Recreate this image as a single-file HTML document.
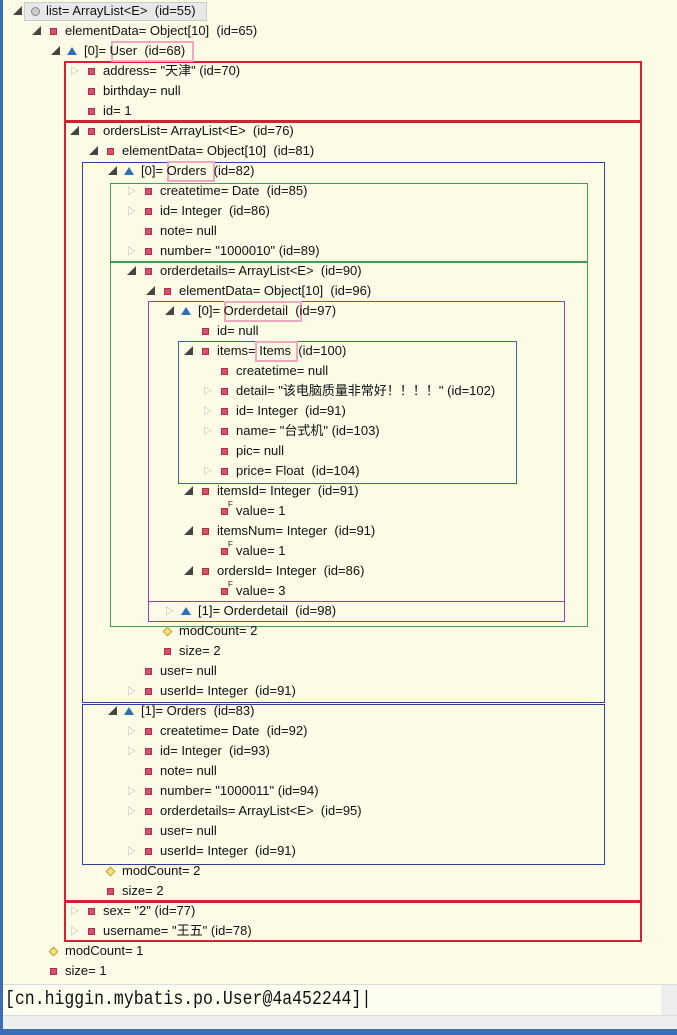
<!DOCTYPE html>
<html><head><meta charset="utf-8"><style>
body{margin:0;width:677px;height:1035px;overflow:hidden;background:#3b6fb5;}
#tree{position:absolute;left:3px;top:0;width:674px;height:984px;background:#fbfbe6;}
.r{position:absolute;height:20px;font:13px "Liberation Sans","Noto Sans CJK SC",sans-serif;line-height:19px;color:#111;white-space:pre;}
.r .a{position:absolute;left:-33px;top:0;width:10px;color:#444;font-size:9px;line-height:21px;}
.r .a.c{color:#aaa;}
.r .i{position:absolute;left:-15px;top:7px;width:7px;height:7px;background:#d9506a;border:1px solid #b03048;box-sizing:border-box;}
.r .i.t{background:none;border:none;width:0;height:0;border-left:5px solid transparent;border-right:5px solid transparent;border-bottom:8px solid #2f6fb5;top:6px;left:-17px;}
.r .i.d{background:#f5e08a;border:1px solid #c9a030;transform:rotate(45deg);}
.r .i.o{border-radius:50%;background:#ccc;border:1px solid #888;width:9px;height:9px;top:6px;}
.r .i.f::after{content:"F";position:absolute;left:6px;top:-8px;font-size:8px;color:#333;line-height:8px;}
.b{position:absolute;box-sizing:border-box;}
</style></head><body>
<div id="tree">
<div class="b" style="left:21px;top:2px;width:183px;height:19px;background:#e8e8e8;border:1px solid #ccc"></div>
<div class="b" style="left:61px;top:61px;width:578px;height:61px;border:2px solid #d42030"></div>
<div class="b" style="left:61px;top:121px;width:578px;height:781px;border:2px solid #d42030"></div>
<div class="b" style="left:61px;top:901px;width:578px;height:41px;border:2px solid #d42030"></div>
<div class="b" style="left:79px;top:162px;width:523px;height:541px;border:1px solid #3040a0"></div>
<div class="b" style="left:79px;top:704px;width:523px;height:161px;border:1px solid #3040a0"></div>
<div class="b" style="left:107px;top:183px;width:478px;height:79px;border:1px solid #40a050"></div>
<div class="b" style="left:107px;top:262px;width:478px;height:365px;border:1px solid #40a050"></div>
<div class="b" style="left:145px;top:301px;width:417px;height:301px;border:1px solid #9040b0"></div>
<div class="b" style="left:145px;top:601px;width:417px;height:21px;border:1px solid #9040b0"></div>
<div class="b" style="left:175px;top:341px;width:339px;height:143px;border:1px solid #4060b0"></div>
<div class="b" style="left:108px;top:41px;width:83px;height:21px;border:2px solid #f0a8c0"></div>
<div class="b" style="left:164px;top:161px;width:48px;height:21px;border:2px solid #f0a8c0"></div>
<div class="b" style="left:221px;top:301px;width:78px;height:21px;border:2px solid #f0a8c0"></div>
<div class="b" style="left:252px;top:341px;width:43px;height:21px;border:2px solid #f0a8c0"></div>

<div class="r" style="top:1px;left:43px"><span class="a">◢</span><span class="i o"></span>list= ArrayList&lt;E&gt;  (id=55)</div>
<div class="r" style="top:21px;left:62px"><span class="a">◢</span><span class="i"></span>elementData= Object[10]  (id=65)</div>
<div class="r" style="top:41px;left:81px"><span class="a">◢</span><span class="i t"></span>[0]= User  (id=68)</div>
<div class="r" style="top:61px;left:100px"><span class="a c">▷</span><span class="i"></span>address= "天津" (id=70)</div>
<div class="r" style="top:81px;left:100px"><span class="i"></span>birthday= null</div>
<div class="r" style="top:101px;left:100px"><span class="i"></span>id= 1</div>
<div class="r" style="top:121px;left:100px"><span class="a">◢</span><span class="i"></span>ordersList= ArrayList&lt;E&gt;  (id=76)</div>
<div class="r" style="top:141px;left:119px"><span class="a">◢</span><span class="i"></span>elementData= Object[10]  (id=81)</div>
<div class="r" style="top:161px;left:138px"><span class="a">◢</span><span class="i t"></span>[0]= Orders  (id=82)</div>
<div class="r" style="top:181px;left:157px"><span class="a c">▷</span><span class="i"></span>createtime= Date  (id=85)</div>
<div class="r" style="top:201px;left:157px"><span class="a c">▷</span><span class="i"></span>id= Integer  (id=86)</div>
<div class="r" style="top:221px;left:157px"><span class="i"></span>note= null</div>
<div class="r" style="top:241px;left:157px"><span class="a c">▷</span><span class="i"></span>number= "1000010" (id=89)</div>
<div class="r" style="top:261px;left:157px"><span class="a">◢</span><span class="i"></span>orderdetails= ArrayList&lt;E&gt;  (id=90)</div>
<div class="r" style="top:281px;left:176px"><span class="a">◢</span><span class="i"></span>elementData= Object[10]  (id=96)</div>
<div class="r" style="top:301px;left:195px"><span class="a">◢</span><span class="i t"></span>[0]= Orderdetail  (id=97)</div>
<div class="r" style="top:321px;left:214px"><span class="i"></span>id= null</div>
<div class="r" style="top:341px;left:214px"><span class="a">◢</span><span class="i"></span>items= Items  (id=100)</div>
<div class="r" style="top:361px;left:233px"><span class="i"></span>createtime= null</div>
<div class="r" style="top:381px;left:233px"><span class="a c">▷</span><span class="i"></span>detail= "该电脑质量非常好！！！！" (id=102)</div>
<div class="r" style="top:401px;left:233px"><span class="a c">▷</span><span class="i"></span>id= Integer  (id=91)</div>
<div class="r" style="top:421px;left:233px"><span class="a c">▷</span><span class="i"></span>name= "台式机" (id=103)</div>
<div class="r" style="top:441px;left:233px"><span class="i"></span>pic= null</div>
<div class="r" style="top:461px;left:233px"><span class="a c">▷</span><span class="i"></span>price= Float  (id=104)</div>
<div class="r" style="top:481px;left:214px"><span class="a">◢</span><span class="i"></span>itemsId= Integer  (id=91)</div>
<div class="r" style="top:501px;left:233px"><span class="i f"></span>value= 1</div>
<div class="r" style="top:521px;left:214px"><span class="a">◢</span><span class="i"></span>itemsNum= Integer  (id=91)</div>
<div class="r" style="top:541px;left:233px"><span class="i f"></span>value= 1</div>
<div class="r" style="top:561px;left:214px"><span class="a">◢</span><span class="i"></span>ordersId= Integer  (id=86)</div>
<div class="r" style="top:581px;left:233px"><span class="i f"></span>value= 3</div>
<div class="r" style="top:601px;left:195px"><span class="a c">▷</span><span class="i t"></span>[1]= Orderdetail  (id=98)</div>
<div class="r" style="top:621px;left:176px"><span class="i d"></span>modCount= 2</div>
<div class="r" style="top:641px;left:176px"><span class="i"></span>size= 2</div>
<div class="r" style="top:661px;left:157px"><span class="i"></span>user= null</div>
<div class="r" style="top:681px;left:157px"><span class="a c">▷</span><span class="i"></span>userId= Integer  (id=91)</div>
<div class="r" style="top:701px;left:138px"><span class="a">◢</span><span class="i t"></span>[1]= Orders  (id=83)</div>
<div class="r" style="top:721px;left:157px"><span class="a c">▷</span><span class="i"></span>createtime= Date  (id=92)</div>
<div class="r" style="top:741px;left:157px"><span class="a c">▷</span><span class="i"></span>id= Integer  (id=93)</div>
<div class="r" style="top:761px;left:157px"><span class="i"></span>note= null</div>
<div class="r" style="top:781px;left:157px"><span class="a c">▷</span><span class="i"></span>number= "1000011" (id=94)</div>
<div class="r" style="top:801px;left:157px"><span class="a c">▷</span><span class="i"></span>orderdetails= ArrayList&lt;E&gt;  (id=95)</div>
<div class="r" style="top:821px;left:157px"><span class="i"></span>user= null</div>
<div class="r" style="top:841px;left:157px"><span class="a c">▷</span><span class="i"></span>userId= Integer  (id=91)</div>
<div class="r" style="top:861px;left:119px"><span class="i d"></span>modCount= 2</div>
<div class="r" style="top:881px;left:119px"><span class="i"></span>size= 2</div>
<div class="r" style="top:901px;left:100px"><span class="a c">▷</span><span class="i"></span>sex= "2" (id=77)</div>
<div class="r" style="top:921px;left:100px"><span class="a c">▷</span><span class="i"></span>username= "王五" (id=78)</div>
<div class="r" style="top:941px;left:62px"><span class="i d"></span>modCount= 1</div>
<div class="r" style="top:961px;left:62px"><span class="i"></span>size= 1</div>
</div>
<div style="position:absolute;left:3px;top:984px;width:674px;height:31px;background:#fdfdf0;border-top:1px solid #ddd;box-sizing:border-box;"></div>
<div style="position:absolute;left:5px;top:986px;font:16.5px 'Liberation Mono',monospace;line-height:26px;color:#111;transform:scaleY(1.2);transform-origin:0 50%;white-space:pre">[cn.higgin.mybatis.po.User@4a452244]|</div>
<div style="position:absolute;left:661px;top:985px;width:16px;height:30px;background:#eee"></div>
<div style="position:absolute;left:3px;top:1015px;width:674px;height:13px;background:#eee;border-top:1px solid #ddd"></div>
</body></html>
